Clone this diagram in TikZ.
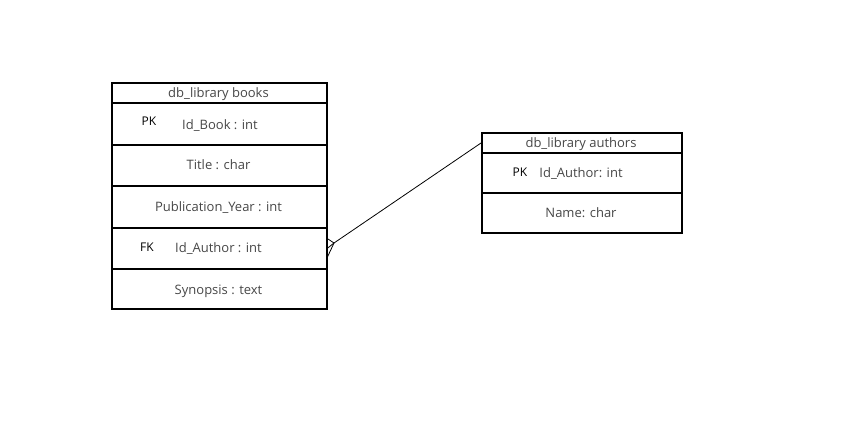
\documentclass[tikz,border=0pt]{standalone}
\usepackage{fontspec}
\setmainfont{Open Sans}
\begin{document}
\begin{tikzpicture}[x=1pt,y=-1pt,
  cell/.style={draw=black,line width=2pt,minimum width=215pt,inner sep=0pt,anchor=north west},
  acell/.style={draw=black,line width=2pt,minimum width=200pt,inner sep=0pt,anchor=north west},
  txt/.style={text=black!72,font=\fontsize{13}{15}\selectfont,inner sep=0pt,anchor=base},
  key/.style={text=black,font=\fontsize{12}{14}\selectfont,inner sep=0pt,anchor=base},
  rel/.style={draw=black,line width=0.8pt}]
\useasboundingbox (0,0) rectangle (856,429);
\fill[white] (0,0) rectangle (856,429);
% books table
\node[cell,minimum height=20pt] (bh) at (111,82) {};
\node[cell,minimum height=41.5pt] (b1) at (111,102) {};
\node[cell,minimum height=41.5pt] (b2) at (111,143.5) {};
\node[cell,minimum height=41.5pt] (b3) at (111,185) {};
\node[cell,minimum height=41.5pt] (b4) at (111,226.5) {};
\node[cell,minimum height=40pt] (b5) at (111,268) {};
\node[txt] (bht) at (218.5,97) {db\_library books};
\node[key] (bpk) at (149,125.5) {PK};
\node[txt] (b1t) at (220,129) {Id\_Book : int};
\node[txt] (b2t) at (218.5,169) {Title : char};
\node[txt] (b3t) at (218.5,211) {Publication\_Year : int};
\node[key] (bfk) at (147,251.5) {FK};
\node[txt] (b4t) at (218.5,252.5) {Id\_Author : int};
\node[txt] (b5t) at (218.5,294) {Synopsis : text};
% authors table
\node[acell,minimum height=20pt] (ah) at (481,132) {};
\node[acell,minimum height=40pt] (a1) at (481,152) {};
\node[acell,minimum height=40pt] (a2) at (481,192) {};
\node[txt] (aht) at (581,147) {db\_library authors};
\node[key] (apk) at (520,176.5) {PK};
\node[txt] (a1t) at (581,177) {Id\_Author: int};
\node[txt] (a2t) at (581,217) {Name: char};
% relationship
\coordinate (cf) at (334,243);
\coordinate (ae) at (481,143);
\coordinate (f1) at (326.5,238);
\coordinate (f2) at (326.5,249);
\coordinate (f3) at (326.5,259);
\draw[rel] (ae) -- (cf);
\draw[rel] (f1) -- (cf) -- (f3);
\draw[rel] (cf) -- (f2);
\end{tikzpicture}
\end{document}
